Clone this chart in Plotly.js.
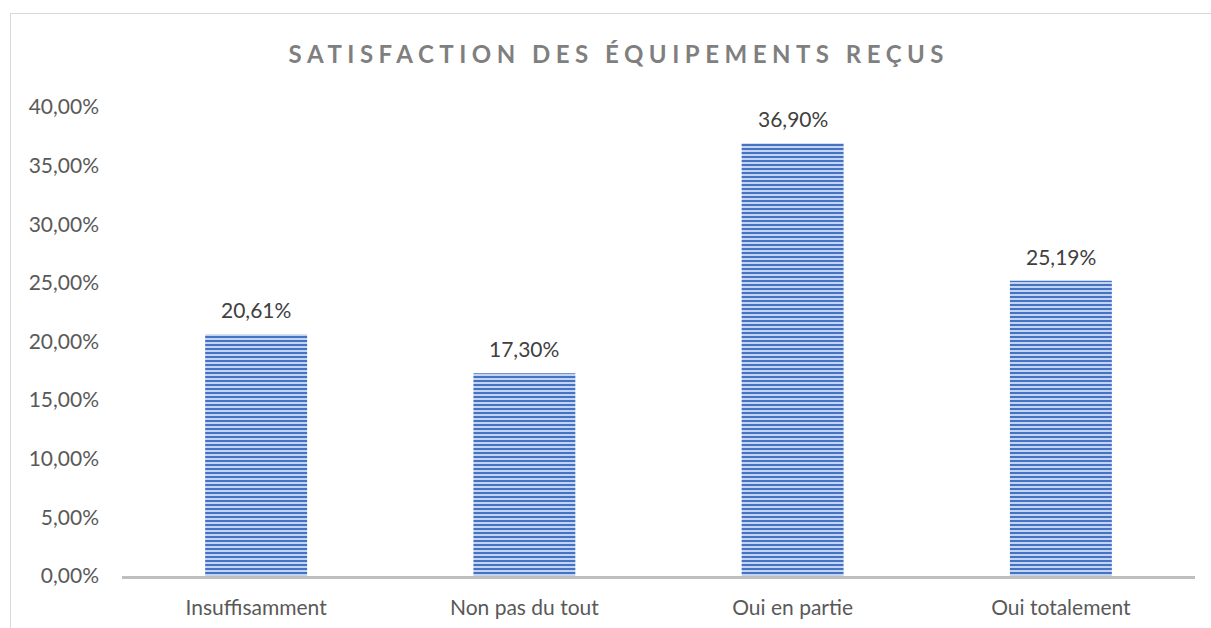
<!DOCTYPE html>
<html>
<head>
<meta charset="utf-8">
<script src="https://cdn.plot.ly/plotly-3.0.1.min.js"></script>
<style>
  body { margin: 0; background: #fff; }
  #frame { position: absolute; left: 10px; top: 13px; width: 1400px; height: 800px;
           border-left: 1px solid #d9d9d9; border-top: 1px solid #d9d9d9; }
  #chart { position: absolute; left: 0; top: 0; width: 1211px; height: 628px; }
  .gtitle { letter-spacing: 5.5px; }
</style>
</head>
<body>
<div id="frame"></div>
<div id="chart"></div>
<script>
// Données du graphique
const categories = ["Insuffisamment", "Non pas du tout", "Oui en partie", "Oui totalement"];
const valeurs = [0.2061, 0.1730, 0.3690, 0.2519];
const ticks = [0, 0.05, 0.10, 0.15, 0.20, 0.25, 0.30, 0.35, 0.40];

const trace = {
  type: "bar",
  x: categories,
  y: valeurs,
  width: 0.38,
  hoverinfo: "none",
  marker: {
    color: "#b4c7e7",
    line: { width: 0 },
    pattern: {
      shape: "-",
      fgcolor: "#4472c4",
      bgcolor: "#c5d4ee",
      size: 4,
      solidity: 0.5,
    },
  },
};

// Étiquettes de données au-dessus des barres
const etiquettes = categories.map((c, i) => ({
  x: c,
  y: valeurs[i],
  xref: "x",
  yref: "y",
  text: (valeurs[i] * 100).toFixed(2).replace(".", ",") + "%",
  showarrow: false,
  yanchor: "bottom",
  yshift: 10,
  font: { family: "Lato, sans-serif", size: 21, color: "#404040" },
}));

const layout = {
  width: 1211,
  height: 628,
  paper_bgcolor: "rgba(0,0,0,0)",
  plot_bgcolor: "rgba(0,0,0,0)",
  separators: ", ",
  margin: { l: 122, r: 16, t: 107, b: 52 },
  showlegend: false,
  font: { family: "Lato, sans-serif", size: 21, color: "#595959" },
  title: {
    text: "<b>SATISFACTION DES ÉQUIPEMENTS REÇUS</b>",
    font: { family: "Lato, sans-serif", size: 24, color: "#7f7f7f" },
    x: 0.511,
    xanchor: "center",
    y: 1 - 55 / 628,
    yanchor: "middle",
  },
  xaxis: {
    showline: true,
    linecolor: "#bfbfbf",
    linewidth: 2.5,
    showgrid: false,
    zeroline: false,
    ticks: "",
    ticklabelstandoff: 11,
    tickfont: { size: 21, color: "#595959" },
  },
  yaxis: {
    range: [0, 0.4],
    tickvals: ticks,
    tickformat: ".2%",
    showgrid: false,
    zeroline: false,
    showline: false,
    ticks: "",
    ticklabelstandoff: 22,
    tickfont: { size: 21, color: "#595959" },
  },
  annotations: etiquettes,
};

Plotly.newPlot("chart", [trace], layout, { displayModeBar: false, staticPlot: true });
</script>
</body>
</html>
